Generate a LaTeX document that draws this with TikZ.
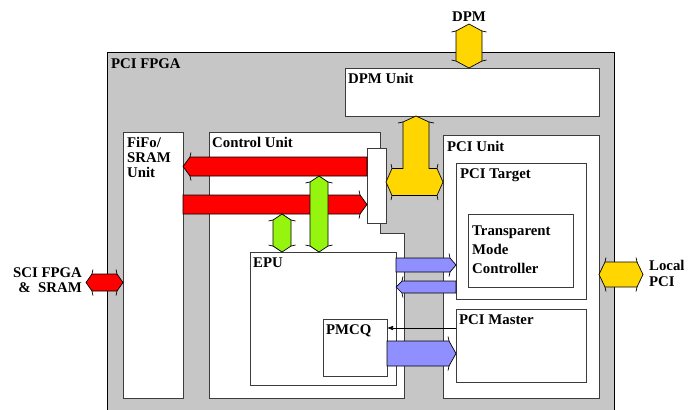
\documentclass[tikz,border=0pt]{standalone}
\usepackage{fontspec}
\setmainfont{Liberation Serif}
\usetikzlibrary{arrows.meta, calc}
\definecolor{fpgagray}{RGB}{198,198,198}
\definecolor{busred}{RGB}{255,0,0}
\definecolor{busgreen}{RGB}{150,245,15}
\definecolor{busyellow}{RGB}{255,214,0}
\definecolor{busblue}{RGB}{143,143,255}
\definecolor{edge}{RGB}{60,60,60}

% fat bus arrow with one head: style, tail, tip, half width, head length
\newcommand{\fatarrow}[5]{%
  \coordinate (fa1) at ($(#2)!#4!90:(#3)$);
  \coordinate (fa2) at ($(#3)!#5!(#2)!#4!-90:(#2)$);
  \coordinate (fa3) at ($(#3)!#5!(#2)!#4!90:(#2)$);
  \coordinate (fa4) at ($(#2)!#4!-90:(#3)$);
  \filldraw[#1] (fa1) -- (fa2) -- (#3) -- (fa3) -- (fa4) -- cycle;
  \draw[#1] (fa2) -- ($(#3)!#5+1pt!(#2)!#4+4.5pt!-90:(#2)$)
    (fa3) -- ($(#3)!#5+1pt!(#2)!#4+4.5pt!90:(#2)$);
}
% fat bus arrow with two heads: style, end a, end b, half width, head length
\newcommand{\fatdarrow}[5]{%
  \coordinate (fa1) at ($(#2)!#5!(#3)!#4!90:(#3)$);
  \coordinate (fa2) at ($(#3)!#5!(#2)!#4!-90:(#2)$);
  \coordinate (fa3) at ($(#3)!#5!(#2)!#4!90:(#2)$);
  \coordinate (fa4) at ($(#2)!#5!(#3)!#4!-90:(#3)$);
  \filldraw[#1] (#2) -- (fa1) -- (fa2) -- (#3) -- (fa3) -- (fa4) -- cycle;
  \draw[#1] (fa2) -- ($(#3)!#5+1pt!(#2)!#4+4.5pt!-90:(#2)$)
    (fa3) -- ($(#3)!#5+1pt!(#2)!#4+4.5pt!90:(#2)$)
    (fa1) -- ($(#2)!#5+1pt!(#3)!#4+4.5pt!90:(#3)$)
    (fa4) -- ($(#2)!#5+1pt!(#3)!#4+4.5pt!-90:(#3)$);
}

\begin{document}
\begin{tikzpicture}[x=1pt, y=-1pt,
    box/.style={draw=edge, fill=white, line width=0.8pt, anchor=north west,
      inner sep=0pt, outer sep=0pt},
    lbl/.style={anchor=north west, inner sep=0pt, align=left,
      font=\bfseries\fontsize{14.8}{15}\selectfont},
    redbus/.style={fill=busred, draw=black, line width=0.7pt},
    greenbus/.style={fill=busgreen, draw=black, line width=0.7pt},
    yelbus/.style={fill=busyellow, draw=black, line width=0.7pt},
    bluebus/.style={fill=busblue, draw=black, line width=0.7pt}]
  \clip (0,0) rectangle (697,410);
  % FPGA frame
  \draw[fill=fpgagray, line width=0.8pt] (107,52) rectangle (614,430);
  \coordinate (fpga) at (107,52);
  % units
  \node[box, minimum width=254pt, minimum height=48pt] (dpmu) at (345,68) {};
  \node[box, minimum width=60pt, minimum height=266pt] (fifo) at (123,132) {};
  \draw[draw=edge, fill=white, line width=0.8pt] (209,132) -- (380,132) -- (380,233)
    -- (404,233) -- (404,398) -- (209,398) -- cycle;
  \coordinate (ctrl) at (209,132);
  \node[box, minimum width=146pt, minimum height=133pt] (epu) at (250,252) {};
  \node[box, minimum width=64pt, minimum height=57pt] (pmcq) at (323,319) {};
  \node[box, minimum width=156pt, minimum height=263pt] (pciu) at (443,135) {};
  \node[box, minimum width=130pt, minimum height=136pt] (tgt) at (456,163) {};
  \node[box, minimum width=105pt, minimum height=73pt] (tmc) at (468,214) {};
  \node[box, minimum width=130pt, minimum height=73pt] (mst) at (456,309) {};
  \node[box, minimum width=19pt, minimum height=75pt] (mux) at (367,148) {};
  % red buses FiFo <-> control unit
  \coordinate (rd) at (mux.west |- 0,166.5);
  \coordinate (rdend) at (fifo.east |- 0,166.5);
  \coordinate (wr) at (fifo.east |- 0,204.5);
  \coordinate (wrend) at (mux.west |- 0,204.5);
  \fatarrow{redbus}{rd}{rdend}{9.5pt}{7pt}
  \fatarrow{redbus}{wr}{wrend}{9.5pt}{7pt}
  % green buses to EPU
  \coordinate (g1a) at (319,0 |- epu.north);
  \coordinate (g1b) at (319,176);
  \coordinate (g2a) at (282,0 |- epu.north);
  \coordinate (g2b) at (282,214);
  \fatdarrow{greenbus}{g1b}{g1a}{9pt}{6pt}
  \fatdarrow{greenbus}{g2b}{g2a}{9pt}{6pt}
  % yellow T bus
  \coordinate (tup) at (416,0 |- dpmu.south);
  \coordinate (tl) at (mux.east |- 0,182);
  \coordinate (tr) at (pciu.west |- 0,182);
  \filldraw[yelbus] (tup) -- (429,122) -- (429,168.5) -- (437,168.5) -- (tr)
    -- (437,195.5) -- (392,195.5) -- (tl) -- (392,168.5) -- (403,168.5)
    -- (403,122) -- cycle;
  \draw[yelbus] (429,122) -- (434,123) (403,122) -- (398,123)
    (437,168.5) -- (438,164) (437,195.5) -- (438,200)
    (392,168.5) -- (391,164) (392,195.5) -- (391,200);
  % blue buses EPU <-> PCI unit
  \coordinate (b1a) at (epu.east |- 0,265);
  \coordinate (b1b) at (tgt.west |- 0,265);
  \coordinate (b2a) at (tgt.west |- 0,287);
  \coordinate (b2b) at (epu.east |- 0,287);
  \coordinate (b3a) at (pmcq.east |- 0,353.5);
  \coordinate (b3b) at (mst.west |- 0,353.5);
  \fatarrow{bluebus}{b1a}{b1b}{7pt}{6pt}
  \fatarrow{bluebus}{b2a}{b2b}{6pt}{6pt}
  \fatarrow{bluebus}{b3a}{b3b}{12.5pt}{7pt}
  \draw[-{Latex[length=6pt,width=4.5pt]}, line width=0.6pt]
    (mst.west |- 0,328) -- (pmcq.east |- 0,328);
  % outside connections
  \coordinate (sci) at (86,282.5);
  \coordinate (scib) at (fifo.west |- sci);
  \fatdarrow{redbus}{sci}{scib}{8.5pt}{6pt}
  \coordinate (loc) at (643,274.5);
  \coordinate (locb) at (pciu.east |- loc);
  \fatdarrow{yelbus}{locb}{loc}{12.5pt}{6pt}
  \coordinate (dpmtop) at (469,24);
  \coordinate (dpmbot) at (dpmtop |- dpmu.north);
  \fatdarrow{yelbus}{dpmtop}{dpmbot}{13pt}{7pt}
  % labels
  \node[lbl] (fpgalbl) at ($(fpga)+(4,6.5)$) {PCI FPGA};
  \node[lbl] (dpmulbl) at ($(dpmu.north west)+(3,5.5)$) {DPM Unit};
  \node[lbl] (fifolbl) at ($(fifo.north west)+(4,5.5)$) {FiFo/\\SRAM\\Unit};
  \node[lbl] (ctrllbl) at ($(ctrl)+(3,5.5)$) {Control Unit};
  \node[lbl] (pciulbl) at ($(pciu.north west)+(4,6.5)$) {PCI Unit};
  \node[lbl] (tgtlbl) at ($(tgt.north west)+(4,5.5)$) {PCI Target};
  \node[lbl, font=\bfseries\fontsize{14.8}{19}\selectfont] (tmclbl)
    at ($(tmc.north west)+(4,11.5)$) {Transparent\\Mode\\Controller};
  \node[lbl] (mstlbl) at ($(mst.north west)+(3,5.5)$) {PCI Master};
  \node[lbl] (epulbl) at ($(epu.north west)+(3,5.5)$) {EPU};
  \node[lbl] (pmcqlbl) at ($(pmcq.north west)+(3,5.5)$) {PMCQ};
  \node[lbl, anchor=north] (dpmlbl) at (469,11.5) {DPM};
  \node[lbl, anchor=north east, align=right] (scilbl) at (82,267.5) {SCI FPGA\\\&\ \ SRAM};
  \node[lbl, font=\bfseries\fontsize{14.8}{16}\selectfont] (loclbl) at (649,260.5) {Local\\PCI};
\end{tikzpicture}
\end{document}
